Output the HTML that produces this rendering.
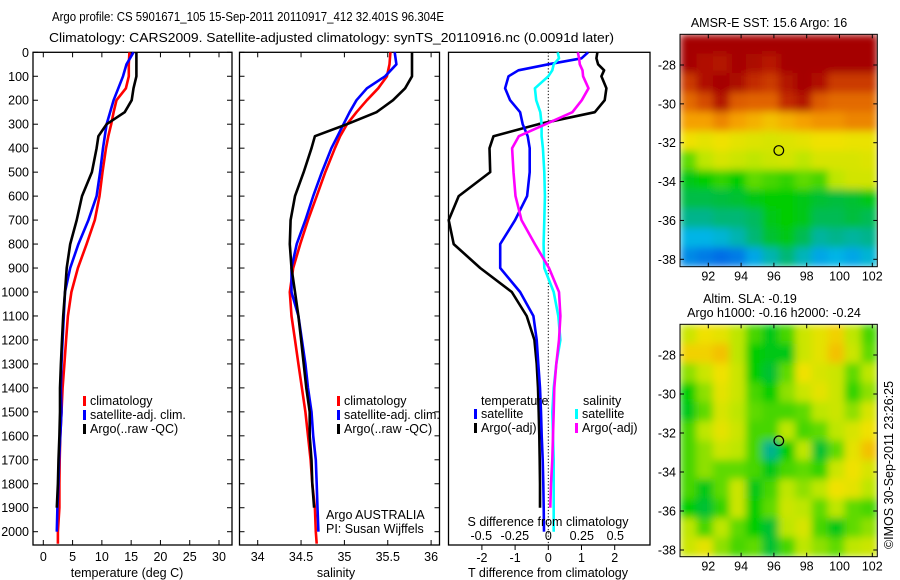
<!DOCTYPE html>
<html><head><meta charset="utf-8"><style>
html,body{margin:0;padding:0;background:#fff;}
svg{display:block;font-family:"Liberation Sans",sans-serif;}
</style></head><body>
<svg id="fig" width="900" height="580" viewBox="0 0 900 580" xmlns="http://www.w3.org/2000/svg">
<defs>
<filter id="blur" x="0" y="0" width="100%" height="100%"><feGaussianBlur stdDeviation="4" edgeMode="duplicate"/></filter>
<clipPath id="clip1"><rect x="680" y="34.3" width="197.3" height="232.4"/></clipPath>
<clipPath id="clip2"><rect x="680" y="324.3" width="197.3" height="232.4"/></clipPath>
</defs>
<rect width="900" height="580" fill="#fff"/>
<text x="52" y="21" font-size="13" textLength="392" lengthAdjust="spacingAndGlyphs">Argo profile: CS 5901671_105 15-Sep-2011 20110917_412 32.401S 96.304E</text>
<text x="49" y="42" font-size="13" textLength="565" lengthAdjust="spacingAndGlyphs">Climatology: CARS2009. Satellite-adjusted climatology: synTS_20110916.nc (0.0091d later)</text>
<g id="g"></g>
</svg>
<script>
// ---------- data ----------
const depths = [0,50,100,150,200,250,300,350,400,500,600,700,800,900,1000,1100,1200,1300,1400,1500,1600,1700,1800,1900,2000,2050];
const tempClim = [14.7,14.6,14.6,14.1,12.5,12.0,11.6,11.1,10.7,10.1,9.6,8.8,7.4,5.9,4.8,4.2,3.9,3.6,3.3,3.1,2.9,2.8,2.75,2.75,2.5,2.5];
const tempSat  = [15.4,14.2,13.6,12.8,12.0,11.4,10.8,10.5,10.2,9.7,9.1,7.7,6.0,4.6,3.7,3.5,3.3,3.1,3.0,3.1,2.9,2.7,2.6,2.4,2.3,null];
const tempArgo = [15.9,15.9,15.9,15.4,15.1,13.9,10.8,9.4,9.1,8.3,6.6,5.7,4.6,4.0,3.7,3.4,3.2,3.0,2.85,2.85,2.75,2.6,2.5,2.3,null,null];
const salClim = [35.53,35.52,35.49,35.39,35.26,35.14,35.03,34.95,34.89,34.78,34.68,34.58,34.49,34.41,34.37,34.39,34.43,34.47,34.51,34.55,34.58,34.61,34.63,34.66,34.67,34.68];
const salSat  = [35.58,35.6,35.47,35.26,35.14,35.06,34.99,34.92,34.85,34.74,34.64,34.55,34.45,34.39,34.39,34.47,34.51,34.55,34.58,34.62,34.64,34.67,34.68,34.69,34.70,null];
const salArgo = [35.78,35.78,35.78,35.7,35.56,35.37,35.03,34.66,34.62,34.53,34.43,34.38,34.37,34.39,34.43,34.47,34.5,34.53,34.56,34.6,34.6,34.62,34.63,34.65,null,null];
const diffDepths = [0,25,50,75,100,150,200,250,300,350,400,500,600,700,800,900,1000,1100,1200,1300,1400,1500,1600,1700,1800,1900,2000];
const dTsat  = [1.2,1.0,0.0,-0.9,-1.2,-1.3,-1.15,-0.85,-0.77,-0.62,-0.56,-0.56,-0.64,-1.0,-1.45,-1.45,-0.85,-0.45,-0.35,-0.3,-0.25,-0.22,-0.2,-0.17,-0.15,-0.14,-0.13];
const dTargo = [1.48,1.45,1.5,1.68,1.6,1.75,1.7,1.4,-0.3,-1.65,-1.77,-1.75,-2.7,-3.0,-2.85,-2.05,-1.1,-0.65,-0.42,-0.35,-0.31,-0.29,-0.27,-0.26,-0.25,-0.25,null];
const dSsat  = [0.07,0.08,0.04,0.03,0.0,-0.1,-0.09,-0.06,-0.05,-0.05,-0.04,-0.03,-0.025,-0.03,-0.035,-0.03,0.04,0.075,0.09,0.06,0.04,0.03,0.035,0.04,0.04,0.04,0.04];
const dSargo = [0.22,0.23,0.235,0.255,0.26,0.3,0.25,0.18,-0.02,-0.22,-0.27,-0.26,-0.245,-0.2,-0.1,0.005,0.08,0.09,0.08,0.06,0.045,0.04,0.035,0.03,0.02,0.015,null];
const depthTicks = [0,100,200,300,400,500,600,700,800,900,1000,1100,1200,1300,1400,1500,1600,1700,1800,1900,2000];
const tempTicks = [0,5,10,15,20,25,30];
const salTicks = [34,34.5,35,35.5,36];
const salTickLabels = ["34","34.5","35","35.5","36"];
const dTTicks = [-2,-1,0,1,2];
const dSTicks = [-0.5,-0.25,0,0.25,0.5];
const dSTickLabels = ["-0.5","-0.25","0","0.25","0.5"];
const lonTicks = [92,94,96,98,100,102];
const latTicks = [-28,-30,-32,-34,-36,-38];
const argoLon = 96.3, argoLat = -32.4;
// SST map, normalized colour value per 1-degree cell (rows from north)
const sstGrid = [
[1,1,1,1,1,1,1,1,1,1,1,1],
[1,0.97,0.96,1,0.98,0.95,1,1,1,1,1,1],
[0.9,0.97,1,0.98,0.92,0.9,0.96,1,0.97,0.9,0.9,0.9],
[0.84,0.88,0.96,0.86,0.85,0.85,0.92,0.96,0.86,0.84,0.84,0.84],
[0.76,0.76,0.8,0.76,0.74,0.72,0.74,0.76,0.78,0.78,0.8,0.8],
[0.68,0.66,0.68,0.66,0.65,0.64,0.65,0.66,0.68,0.68,0.67,0.67],
[0.56,0.6,0.64,0.62,0.6,0.62,0.63,0.6,0.64,0.64,0.64,0.65],
[0.5,0.52,0.54,0.52,0.56,0.55,0.54,0.56,0.55,0.6,0.63,0.63],
[0.46,0.46,0.47,0.48,0.5,0.52,0.52,0.5,0.48,0.47,0.48,0.5],
[0.4,0.4,0.42,0.42,0.44,0.5,0.52,0.5,0.45,0.45,0.47,0.45],
[0.3,0.3,0.32,0.36,0.42,0.48,0.5,0.45,0.38,0.4,0.38,0.4],
[0.24,0.22,0.2,0.22,0.28,0.36,0.42,0.35,0.28,0.3,0.28,0.32]];
// SLA map
const slaGrid = [
[0.62,0.68,0.66,0.6,0.55,0.5,0.55,0.62,0.66,0.7,0.6,0.55],
[0.7,0.7,0.72,0.6,0.52,0.5,0.5,0.62,0.66,0.72,0.62,0.56],
[0.58,0.62,0.68,0.62,0.52,0.48,0.56,0.68,0.64,0.62,0.56,0.6],
[0.52,0.58,0.66,0.62,0.55,0.52,0.58,0.62,0.66,0.62,0.54,0.58],
[0.5,0.56,0.64,0.6,0.56,0.55,0.55,0.56,0.6,0.62,0.58,0.64],
[0.55,0.6,0.66,0.62,0.55,0.55,0.6,0.55,0.56,0.6,0.64,0.68],
[0.55,0.58,0.62,0.6,0.55,0.4,0.52,0.6,0.48,0.56,0.66,0.72],
[0.55,0.58,0.56,0.56,0.55,0.5,0.55,0.56,0.54,0.62,0.68,0.64],
[0.55,0.5,0.56,0.62,0.5,0.55,0.6,0.58,0.6,0.68,0.66,0.6],
[0.52,0.48,0.54,0.62,0.52,0.56,0.62,0.6,0.56,0.6,0.56,0.55],
[0.6,0.55,0.6,0.56,0.52,0.48,0.6,0.64,0.55,0.5,0.56,0.58],
[0.62,0.66,0.58,0.55,0.56,0.48,0.55,0.6,0.58,0.56,0.6,0.62]];

// ---------- drawing ----------
const NS="http://www.w3.org/2000/svg";
const G=document.getElementById('g');
function mk(tag,attrs,parent){const e=document.createElementNS(NS,tag);for(const k in attrs)e.setAttribute(k,attrs[k]);(parent||G).appendChild(e);return e;}
function txt(s,x,y,anchor,size,parent){const t=mk('text',{x:x,y:y,'text-anchor':anchor||'start','font-size':size||12},parent);t.textContent=s;return t;}
const TOP=52.3, DPX=0.2397, BOT=545;
const yD=d=>TOP+d*DPX;
function panel(name,x0,x1){
  const g=mk('g',{});
  
  
  mk('rect',{x:x0,y:TOP,width:x1-x0,height:BOT-TOP,fill:'none',stroke:'#000','stroke-width':1.3},g);
  return g;
}
function line(g,name,ds,vals,sx,color,w){
  let p='';let started=false;
  for(let i=0;i<ds.length;i++){if(vals[i]==null)continue;p+=(started?'L':'M')+sx(vals[i]).toFixed(1)+','+yD(ds[i]).toFixed(1);started=true;}
  const e=mk('path',{d:p,fill:'none',stroke:color,'stroke-width':w||2.6,'stroke-linejoin':'round'},g);
  
  
}
function xticks(g,x0,x1,ticks,sx){
  ticks.forEach(v=>{const x=sx(v);
    mk('line',{x1:x,x2:x,y1:BOT,y2:BOT-5,stroke:'#000'},g);
    mk('line',{x1:x,x2:x,y1:TOP,y2:TOP+5,stroke:'#000'},g);});
}
function yticks(g,x0,x1){
  depthTicks.forEach(d=>{const y=yD(d);
    mk('line',{x1:x0,x2:x0+5,y1:y,y2:y,stroke:'#000'},g);
    mk('line',{x1:x1,x2:x1-5,y1:y,y2:y,stroke:'#000'},g);});
}
function legendItem(g,name,color,x,y,label){
  const r=mk('rect',{x:x,y:y-9,width:3,height:10,fill:color},g);
  
  
  const t=txt(label,x+7,y,'start',12.5,g);
  
  
}
// Temperature panel
const tx0=33,tx1=232, sxT=v=>43.3+5.857*v;
const gT=panel('temperature-panel',tx0,tx1);
yticks(gT,tx0,tx1); xticks(gT,tx0,tx1,tempTicks,sxT);
depthTicks.forEach(d=>{const t=txt(String(d),29,yD(d)+4.5,'end',12.5,gT);});
tempTicks.forEach(v=>{const t=txt(String(v),sxT(v),561,'middle',12.5,gT);});
const tt=txt('temperature (deg C)',127,577,'middle',12.5,gT);
line(gT,'temperature-climatology-line',depths,tempClim,sxT,'#f00');
line(gT,'temperature-satellite-line',depths,tempSat,sxT,'#00f');
line(gT,'temperature-argo-line',depths,tempArgo,sxT,'#000');
legendItem(gT,'legend-climatology','#f00',83,405,'climatology');
legendItem(gT,'legend-satellite-adj','#00f',83,419,'satellite-adj. clim.');
legendItem(gT,'legend-argo-raw','#000',83,433,'Argo(..raw -QC)');
// Salinity panel
const sx0=239.5,sx1=439.5, sxS=v=>257.7+86.7*(v-34);
const gS=panel('salinity-panel',sx0,sx1);
yticks(gS,sx0,sx1); xticks(gS,sx0,sx1,salTicks,sxS);
salTicks.forEach((v,i)=>{const t=txt(salTickLabels[i],sxS(v),561,'middle',12.5,gS);});
const st=txt('salinity',336,577,'middle',12.5,gS);
line(gS,'salinity-climatology-line',depths,salClim,sxS,'#f00');
line(gS,'salinity-satellite-line',depths,salSat,sxS,'#00f');
line(gS,'salinity-argo-line',depths,salArgo,sxS,'#000');
legendItem(gS,'legend-climatology-sal','#f00',337,405,'climatology');
legendItem(gS,'legend-satellite-adj-sal','#00f',337,419,'satellite-adj. clim.');
legendItem(gS,'legend-argo-raw-sal','#000',337,433,'Argo(..raw -QC)');
const a1=txt('Argo AUSTRALIA',326,519,'start',12.5,gS);
const a2=txt('PI: Susan Wijffels',326,533,'start',12.5,gS);
// Difference panel
const dx0=448.5,dx1=650, sxDT=v=>548.3+33.2*v, sxDS=v=>548.3+134*v;
const gD=panel('difference-panel',dx0,dx1);
dTTicks.forEach(v=>{const x=sxDT(v);mk('line',{x1:x,x2:x,y1:BOT,y2:BOT+5,stroke:'#000'},gD);});
mk('line',{x1:sxDT(0),x2:sxDT(0),y1:TOP,y2:BOT,stroke:'#000','stroke-dasharray':'1.2,2','stroke-width':1},gD);
dTTicks.forEach(v=>{const t=txt(String(v),sxDT(v),562,'middle',12.5,gD);});
dSTicks.forEach((v,i)=>{const t=txt(dSTickLabels[i],sxDS(v),540,'middle',12.5,gD);});
const dt=txt('T difference from climatology',548,577,'middle',12.5,gD);
line(gD,'t-diff-argo-line',diffDepths,dTargo,sxDT,'#000');
line(gD,'t-diff-satellite-line',diffDepths,dTsat,sxDT,'#00f');
line(gD,'s-diff-satellite-line',diffDepths,dSsat,sxDS,'#0ff');
line(gD,'s-diff-argo-line',diffDepths,dSargo,sxDS,'#f0f');
const ds=txt('S difference from climatology',548,526,'middle',12.5,gD);
const lt=txt('temperature',481,405,'start',12.5,gD);
const ls=txt('salinity',583,405,'start',12.5,gD);
legendItem(gD,'legend-t-satellite','#00f',474,418,'satellite');
legendItem(gD,'legend-t-argo','#000',474,432,'Argo(-adj)');
legendItem(gD,'legend-s-satellite','#0ff',575,418,'satellite');
legendItem(gD,'legend-s-argo','#f0f',575,432,'Argo(-adj)');
// ---------- maps ----------
const cmap=[[0,[0,50,200]],[0.2,[0,110,230]],[0.3,[0,180,230]],[0.4,[0,180,140]],[0.47,[0,190,60]],[0.52,[0,205,0]],[0.6,[190,230,0]],[0.68,[240,225,0]],[0.76,[245,160,0]],[0.85,[225,100,0]],[0.93,[190,35,0]],[1,[165,0,0]]];
function col(v){v=Math.max(0,Math.min(1,v));
  for(let i=1;i<cmap.length;i++){if(v<=cmap[i][0]){const a=cmap[i-1],b=cmap[i];const t=(v-a[0])/(b[0]-a[0]);
    return 'rgb('+a[1].map((c,k)=>Math.round(c+(b[1][k]-c)*t)).join(',')+')';}}
  return 'rgb(165,0,0)';}
function map(name,top,bot,grid,lat28y,lat38y,clip){
  const g=mk('g',{});
  
  
  const L=680,R=877.3;
  const sx=lon=>708.3+16.4*(lon-92);
  const latPx=(lat38y-lat28y)/10;
  const sy=lat=>lat28y+(-28-lat)*latPx;
  const rows=grid.length, cols=grid[0].length;
  const cw=(R-L)/cols, ch=(bot-top)/rows;
  const cg=mk('g',{'clip-path':'url(#'+clip+')'},g);
  const bg=mk('g',{filter:'url(#blur)'},cg);
  for(let r=0;r<rows;r++)for(let c=0;c<cols;c++){
    const cell=mk('rect',{x:(L+c*cw).toFixed(2),y:(top+r*ch).toFixed(2),width:(cw+0.5).toFixed(2),height:(ch+0.5).toFixed(2),fill:col(grid[r][c])},bg);
    
    
  }
  mk('rect',{x:L,y:top,width:R-L,height:bot-top,fill:'none',stroke:'#000','stroke-width':1},g);
  lonTicks.forEach(v=>{const x=sx(v);mk('line',{x1:x,x2:x,y1:bot,y2:bot-4,stroke:'#000'},g);mk('line',{x1:x,x2:x,y1:top,y2:top+4,stroke:'#000'},g);
    const t=txt(String(v),x,bot+14,'middle',12.5,g);});
  latTicks.forEach(v=>{const y=sy(v);mk('line',{x1:L,x2:L+4,y1:y,y2:y,stroke:'#000'},g);mk('line',{x1:R,x2:R-4,y1:y,y2:y,stroke:'#000'},g);
    const t=txt(String(v),676,y+4.5,'end',12.5,g);});
  const c=mk('circle',{cx:sx(argoLon),cy:sy(argoLat),r:4.8,fill:'none',stroke:'#000','stroke-width':1.2},g);
  
  
  return g;
}
const m1=map('sst-map',34.3,266.7,sstGrid,65,259.3,'clip1');
const m1t=txt('AMSR-E SST: 15.6  Argo: 16',769,27,'middle',12.5,m1);
const m2=map('sla-map',324.3,556.7,slaGrid,355,550,'clip2');
const m2a=txt('Altim. SLA: -0.19',750,303,'middle',12.5,m2);
const m2b=txt('Argo h1000: -0.16 h2000: -0.24',774,317,'middle',12.5,m2);
const cr=txt('©IMOS 30-Sep-2011 23:26:25',0,0,'middle',12.5);
cr.setAttribute('transform','translate(893,465) rotate(-90)');


</script>
</body></html>
